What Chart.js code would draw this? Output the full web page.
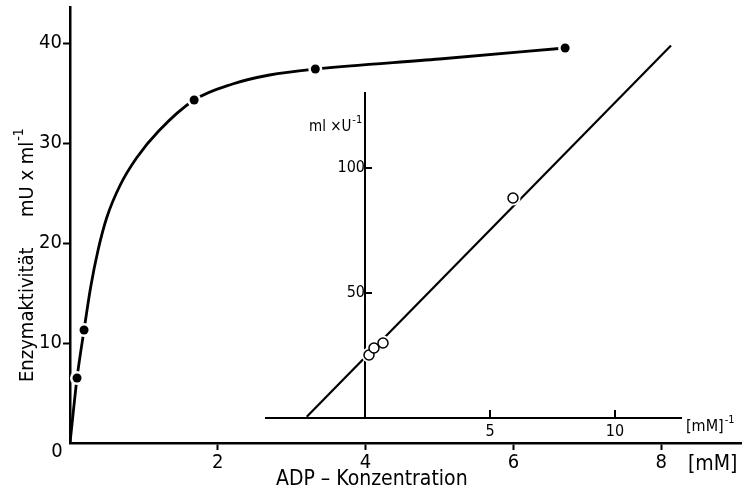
<!DOCTYPE html>
<html>
<head>
<meta charset="utf-8">
<script src="https://cdn.jsdelivr.net/npm/chart.js@4.4.0/dist/chart.umd.min.js"></script>
<style>
html,body{margin:0;padding:0;background:#fff}
#wrap{position:relative;width:742px;height:491px;overflow:hidden}
#wrap canvas{position:absolute;left:0;top:0}
</style>
</head>
<body>
<div id="wrap">
<canvas id="haupt" width="748" height="491"></canvas>
<canvas id="einsatz" width="742" height="491"></canvas>
</div>
<script>
// messpunkte : ADP konzentration (mM) et activite (mU x ml-1)
const adpKonz = [0.095, 0.19, 1.68, 3.32, 6.70]
const aktivitaet = [6.5, 11.3, 34.3, 37.4, 39.5]

// la courbe tracee a la main
const kurveX = [0, 0.05, 0.095, 0.19, 0.28, 0.38, 0.5, 0.68, 0.9, 1.2, 1.68, 2.2, 2.7, 3.32, 5.0, 6.70]
const kurveY = [0, 3.5, 6.5, 11.3, 15.6, 19.3, 22.6, 25.8, 28.5, 31.2, 34.3, 35.9, 36.8, 37.4, 38.4, 39.5]

// encart lineweaver-burk : [mM]-1 et ml x U-1
const inversX = [0.16, 0.36, 0.72, 5.92, 12.48]
const inversY = [25.2, 28.0, 30.0, 88.0, 152.0]
const geradeX = [-2.33, 12.24]
const geradeY = [0.5, 149]

// graduations
const ticksX = [2, 4, 6, 8]
const ticksY = [10, 20, 30, 40]
const insetTicksX = [5, 10]
const insetTicksY = [50, 100]

const schrift = '"DejaVu Sans Condensed", "DejaVu Sans", sans-serif'
Chart.defaults.font.family = schrift
Chart.defaults.color = '#000'

function punkte(xs, ys){ //transformer deux listes en points {x,y}
    return xs.map((x, i) => ({x: x, y: ys[i]}))
}

function fixTicks(liste){
    return function(scale){ scale.ticks = liste.map(v => ({value: v})) }
}

function texteExp(ctx, txt, exp, x, y, taille){ //texte avec exposant
    ctx.font = taille + 'px ' + schrift
    ctx.fillText(txt, x, y)
    var w = ctx.measureText(txt).width
    ctx.font = Math.round(taille * 0.7) + 'px ' + schrift
    ctx.fillText(exp, x + w + 1, y - taille * 0.45)
}

const texteHaupt = {
    id: 'texteHaupt',
    afterDraw(chart){
        const ctx = chart.ctx
        ctx.save()
        ctx.fillStyle = '#000'
        ctx.textBaseline = 'middle'
        ctx.textAlign = 'center'
        ctx.font = '20px ' + schrift
        ctx.fillText('0', 57, 452)
        ctx.textAlign = 'left'
        ctx.font = '21px ' + schrift
        ctx.fillText('[mM]', 688, 465)
        ctx.fillText('ADP – Konzentration', 276, 480)
        // titre axe y
        ctx.translate(28, 382)
        ctx.rotate(-Math.PI / 2)
        ctx.font = '20px ' + schrift
        ctx.fillText('Enzymaktivität', 0, 0)
        texteExp(ctx, 'mU x ml', '-1', 165, 0, 20)
        ctx.restore()
    }
}

const texteInset = {
    id: 'texteInset',
    afterDraw(chart){
        const ctx = chart.ctx
        const sx = chart.scales.x, sy = chart.scales.y
        ctx.save()
        ctx.strokeStyle = '#000'
        ctx.lineWidth = 2
        // graduations vers l'interieur
        const x0 = sx.getPixelForValue(0), y0 = sy.getPixelForValue(0)
        insetTicksX.forEach(v => {
            const p = sx.getPixelForValue(v)
            ctx.beginPath(); ctx.moveTo(p, y0); ctx.lineTo(p, y0 - 8); ctx.stroke()
        })
        insetTicksY.forEach(v => {
            const p = sy.getPixelForValue(v)
            ctx.beginPath(); ctx.moveTo(x0, p); ctx.lineTo(x0 + 7, p); ctx.stroke()
        })
        ctx.fillStyle = '#000'
        ctx.textBaseline = 'middle'
        ctx.textAlign = 'left'
        texteExp(ctx, '[mM]', '-1', 686, 427, 16)
        texteExp(ctx, 'ml ×U', '-1', 309, 127, 15)
        ctx.restore()
    }
}

new Chart(document.getElementById('haupt'), {
    type: 'line',
    data: {
        datasets: [
            {data: punkte(kurveX, kurveY), borderColor: '#000', borderWidth: 2.8, pointRadius: 0,
             cubicInterpolationMode: 'monotone', fill: false, order: 3},
            {data: punkte(adpKonz, aktivitaet), showLine: false, pointRadius: 7,
             pointBackgroundColor: '#fff', pointBorderWidth: 0, order: 2},
            {data: punkte(adpKonz, aktivitaet), showLine: false, pointRadius: 4.5,
             pointBackgroundColor: '#000', pointBorderWidth: 0, order: 1}
        ]
    },
    options: {
        responsive: false,
        animation: false,
        layout: {padding: {top: 7, left: 0, right: 0, bottom: 0}},
        plugins: {legend: {display: false}, tooltip: {enabled: false}},
        scales: {
            x: {type: 'linear', min: 0, max: 9.08,
                afterBuildTicks: fixTicks(ticksX),
                afterFit: s => { s.height = 48; s.paddingLeft = 0; s.paddingRight = 0 },
                grid: {drawOnChartArea: false, tickLength: 7, tickWidth: 2, tickColor: '#000'},
                border: {color: '#000', width: 2.5},
                ticks: {font: {size: 20}, padding: 1, maxRotation: 0, color: '#000'}},
            y: {type: 'linear', min: 0, max: 43.6,
                afterBuildTicks: fixTicks(ticksY),
                afterFit: s => { s.width = 70; s.paddingTop = 0; s.paddingBottom = 0 },
                grid: {drawOnChartArea: false, tickLength: 7, tickWidth: 2, tickColor: '#000'},
                border: {color: '#000', width: 2.5},
                ticks: {font: {size: 20}, padding: 1, color: '#000'}}
        }
    },
    plugins: [texteHaupt]
})

new Chart(document.getElementById('einsatz'), {
    type: 'line',
    data: {
        datasets: [
            {data: punkte(geradeX, geradeY), borderColor: '#000', borderWidth: 2.2, pointRadius: 0,
             clip: false, order: 3},
            {data: punkte(inversX, inversY), showLine: false, pointRadius: 7.5,
             pointBackgroundColor: '#fff', pointBorderWidth: 0, clip: false, order: 2},
            {data: punkte(inversX, inversY), showLine: false, pointRadius: 5,
             pointBackgroundColor: '#fff', pointBorderColor: '#000', pointBorderWidth: 1.5,
             clip: false, order: 1}
        ]
    },
    options: {
        responsive: false,
        animation: false,
        layout: {padding: {top: 93, left: 266, right: 61, bottom: 0}},
        plugins: {legend: {display: false}, tooltip: {enabled: false}},
        scales: {
            x: {type: 'linear', min: -3.96, max: 12.64,
                afterBuildTicks: fixTicks(insetTicksX),
                afterFit: s => { s.height = 73 },
                grid: {drawOnChartArea: false, drawTicks: false},
                border: {color: '#000', width: 2},
                ticks: {font: {size: 16}, padding: 4, maxRotation: 0, color: '#000'}},
            y: {type: 'linear', position: {x: 0}, min: 0, max: 130,
                afterBuildTicks: fixTicks(insetTicksY),
                grid: {drawOnChartArea: false, drawTicks: false},
                border: {color: '#000', width: 2},
                ticks: {font: {size: 16}, padding: 3, color: '#000'}}
        }
    },
    plugins: [texteInset]
})
</script>
</body>
</html>
